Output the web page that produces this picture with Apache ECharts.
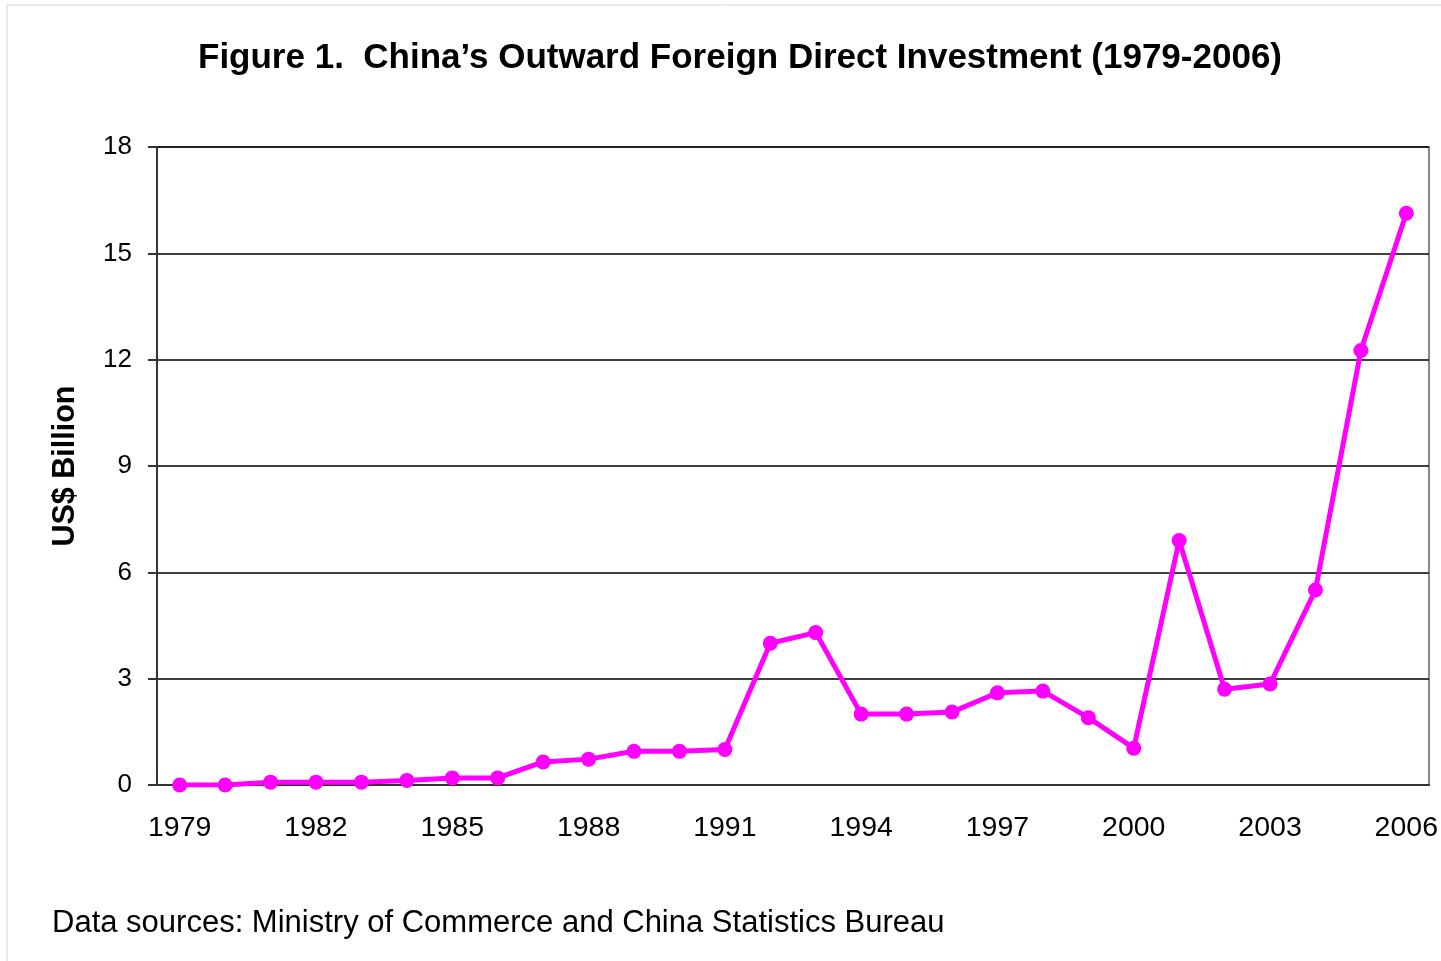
<!DOCTYPE html>
<html>
<head>
<meta charset="utf-8">
<script src="https://cdn.jsdelivr.net/npm/echarts@6/dist/echarts.min.js"></script>
<style>
  html, body { margin: 0; padding: 0; background: #fff; }
  #chart { width: 1441px; height: 961px; }
</style>
</head>
<body>
<div id="chart"></div>
<script>
const years = [
  '1979', '1980', '1981', '1982', '1983', '1984', '1985', '1986', '1987', '1988',
  '1989', '1990', '1991', '1992', '1993', '1994', '1995', '1996', '1997', '1998',
  '1999', '2000', '2001', '2002', '2003', '2004', '2005', '2006'
];
const ofdi = [
  0.0, 0.0, 0.08, 0.08, 0.08, 0.13, 0.2, 0.2, 0.65, 0.73,
  0.95, 0.95, 1.0, 4.0, 4.3, 2.0, 2.0, 2.06, 2.6, 2.65,
  1.9, 1.04, 6.9, 2.7, 2.85, 5.5, 12.26, 16.13
];

const chart = echarts.init(document.getElementById('chart'));

chart.setOption({
  backgroundColor: '#fff',
  animation: false,
  title: {
    text: 'Figure 1.  China\u2019s Outward Foreign Direct Investment (1979-2006)',
    left: 735,
    textAlign: 'center',
    top: 36,
    textStyle: {
      fontFamily: 'Liberation Sans, Arial, sans-serif',
      fontSize: 35,
      fontWeight: 'bold',
      color: '#000'
    }
  },
  graphic: [
    {
      type: 'rect',
      shape: { x: 7, y: 5, width: 1440, height: 960 },
      style: { fill: 'none', stroke: '#d8d8d8', lineWidth: 1 }
    },
    {
      type: 'text',
      left: 52,
      top: 908,
      style: {
        text: 'Data sources: Ministry of Commerce and China Statistics Bureau',
        fontFamily: 'Liberation Sans, Arial, sans-serif',
        fontSize: 31,
        fill: '#000'
      }
    }
  ],
  grid: {
    left: 157,
    right: 11,
    top: 147,
    bottom: 176,
    show: true,
    borderColor: '#888',
    borderWidth: 2,
    backgroundColor: '#fff'
  },
  xAxis: {
    type: 'category',
    data: years,
    boundaryGap: true,
    axisLine: { lineStyle: { color: '#333', width: 2 } },
    axisTick: { interval: 0, length: 9, lineStyle: { color: '#333', width: 2 } },
    axisLabel: {
      interval: 2,
      margin: 29,
      fontFamily: 'Liberation Sans, Arial, sans-serif',
      fontSize: 28.5,
      color: '#000'
    },
    splitLine: { show: false }
  },
  yAxis: {
    type: 'value',
    min: 0,
    max: 18,
    interval: 3,
    name: 'US$ Billion',
    nameLocation: 'middle',
    nameGap: 76,
    nameRotate: 90,
    nameTextStyle: {
      fontFamily: 'Liberation Sans, Arial, sans-serif',
      fontSize: 30.5,
      fontWeight: 'bold',
      color: '#000'
    },
    axisLine: { show: true, lineStyle: { color: '#333', width: 2 } },
    axisTick: { show: true, length: 9, lineStyle: { color: '#333', width: 2 } },
    axisLabel: {
      margin: 25,
      fontFamily: 'Liberation Sans, Arial, sans-serif',
      fontSize: 26,
      color: '#000'
    },
    splitLine: { lineStyle: { color: '#000', width: 1.5 } }
  },
  series: [
    {
      type: 'line',
      data: ofdi,
      symbol: 'circle',
      symbolSize: 15,
      lineStyle: { color: '#ff00ff', width: 5 },
      itemStyle: { color: '#ff00ff' }
    }
  ]
});
</script>
</body>
</html>
